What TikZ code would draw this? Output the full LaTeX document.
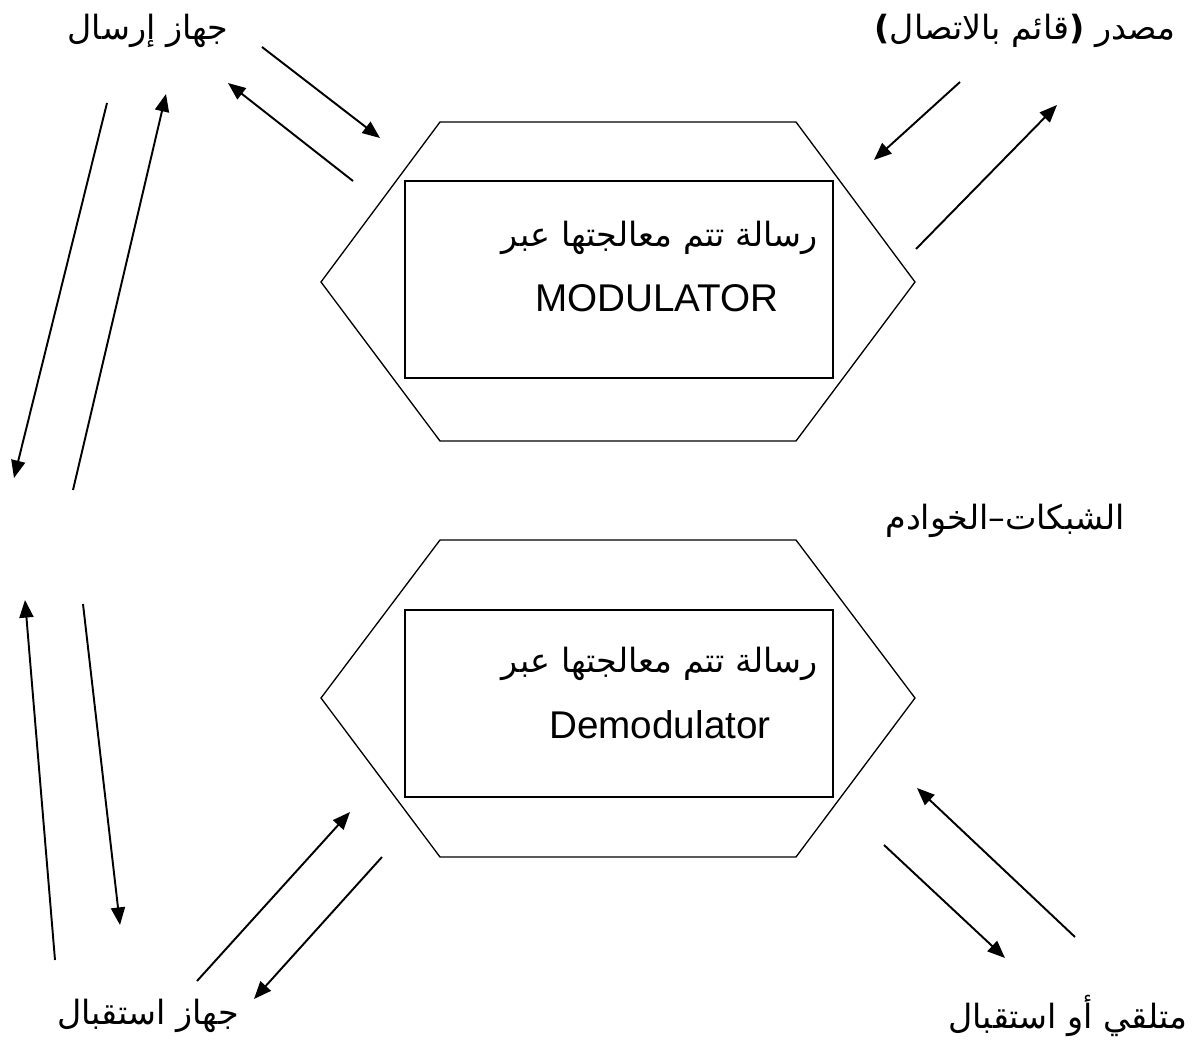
\documentclass[tikz,border=0pt]{standalone}
\usepackage{fontspec}
\setmainfont{Liberation Sans}
\newfontfamily\arabicfont[Script=Arabic]{DejaVu Sans}
\newfontfamily\arabicbold[Script=Arabic]{DejaVu Sans Bold}
\TeXXeTstate=1
\usetikzlibrary{arrows.meta}

\tikzset{
  arr/.style={line width=1.1pt,-{Triangle[length=10pt,width=8pt]}},
  hexa/.style={line width=0.75pt},
  msgbox/.style={draw,line width=0.75pt,minimum width=428*0.02cm,inner sep=0pt},
  lbl/.style={font=\arabicfont\fontsize{19}{23}\selectfont,inner sep=0pt},
  latin/.style={font=\fontsize{22}{26}\selectfont,inner sep=0pt}
}

\begin{document}
\begin{tikzpicture}[x=0.02cm,y=-0.02cm]
  \useasboundingbox (0,0) rectangle (1198,1044);
  % two hexagons
  \draw[hexa] (440,122) -- (796,122) -- (915,282) -- (796,441) -- (440,441) -- (321,282) -- cycle;
  \draw[hexa] (440,540) -- (796,540) -- (915,698) -- (796,857) -- (440,857) -- (321,698) -- cycle;
  \node[msgbox,minimum height=197*0.02cm] (modbox) at (619,279.5) {};
  \node[msgbox,minimum height=187*0.02cm] (demodbox) at (619,703.5) {};
  \node[lbl,anchor=east] (modar) at (818,238) {\beginR رسالة تتم معالجتها عبر\endR};
  \node[latin] (modlat) at (657,298) {MODULATOR};
  \node[lbl,anchor=east] (demodar) at (818,664) {\beginR رسالة تتم معالجتها عبر\endR};
  \node[latin] (demodlat) at (660,725) {Demodulator};
  % labels
  \node[lbl] (sender) at (148,31) {\beginR جهاز إرسال\endR};
  \node[lbl] (source) at (1025,31) {\beginR مصدر {\arabicbold(}قائم بالاتصال{\arabicbold)}\endR};
  \node[lbl] (servers) at (1005,521) {\beginR الشبكات–الخوادم\endR};
  \node[lbl] (receiver) at (148,1016) {\beginR جهاز استقبال\endR};
  \node[lbl] (listener) at (1068,1016) {\beginR متلقي أو استقبال\endR};
  % arrows
  \foreach \n/\sx/\sy/\ex/\ey in {1/262/47/380/138, 2/353/181/228/83, 3/107/103/14/478,
      4/73/490/166/94, 5/960/82/874/160, 6/916/249/1057/105, 7/83/604/120/925,
      8/55/960/25/600, 9/197/981/350/812, 10/382/857/254/999, 11/1075/937/917/788,
      12/884/845/1005/958}{
    \coordinate (s\n) at (\sx,\sy);
    \coordinate (e\n) at (\ex,\ey);
    \draw[arr] (s\n) -- (e\n);
  }
\end{tikzpicture}
\end{document}
